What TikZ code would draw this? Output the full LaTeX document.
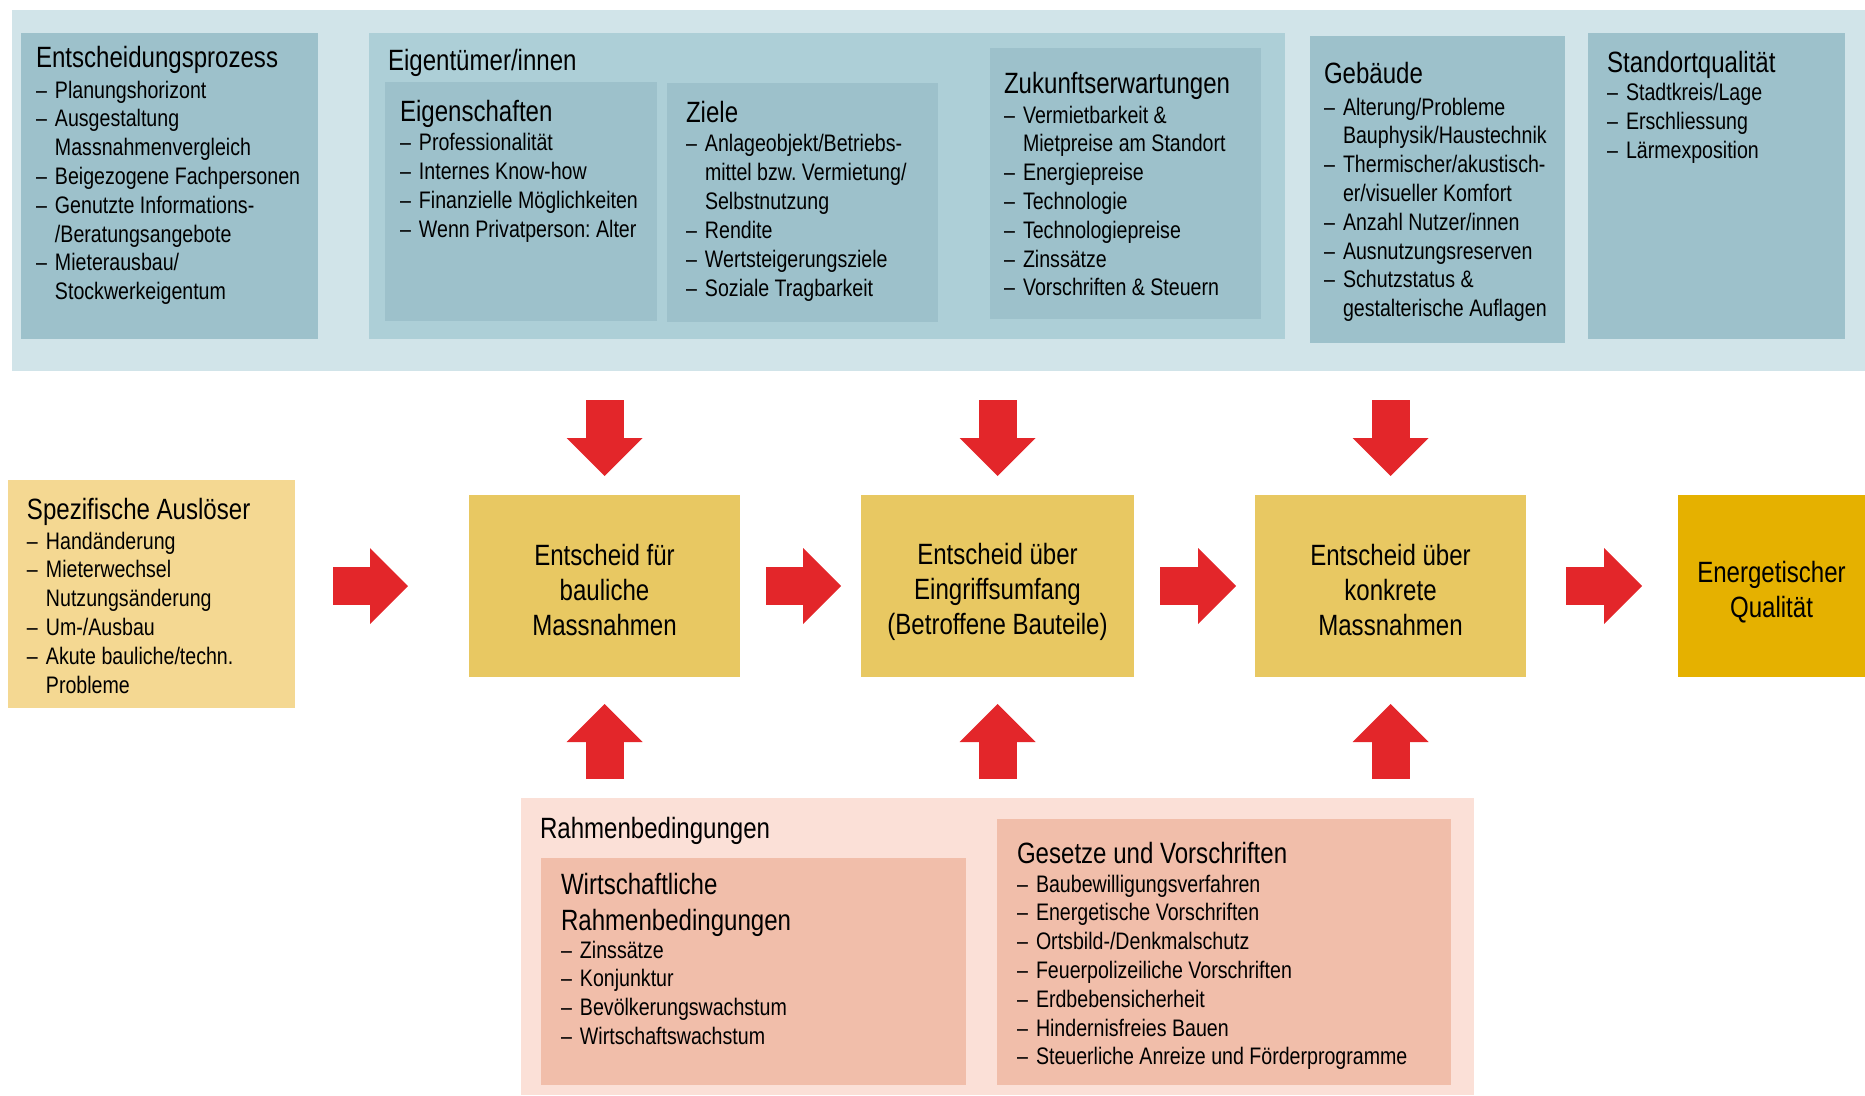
\documentclass[tikz,border=0pt]{standalone}
\usepackage{fontspec}
\setmainfont{Liberation Sans}[FakeStretch=0.82]
\usetikzlibrary{positioning,fit,calc,arrows.meta}
\frenchspacing

\definecolor{bandblue}{HTML}{D1E4E9}
\definecolor{ownerblue}{HTML}{ADCFD7}
\definecolor{innerblue}{HTML}{9DC1CB}
\definecolor{triggeryellow}{HTML}{F4D892}
\definecolor{decyellow}{HTML}{E8C862}
\definecolor{goalgold}{HTML}{E5B100}
\definecolor{arrowred}{HTML}{E3262A}
\definecolor{frameypink}{HTML}{FBE0D7}
\definecolor{innerpink}{HTML}{F1BEAA}

\newcommand{\hdsize}{\fontsize{16.7pt}{20.5pt}\selectfont}
\newcommand{\lssize}{\fontsize{13.6pt}{16.4pt}\selectfont}
\newcommand{\decsize}{\fontsize{16.7pt}{19.9pt}\selectfont}
\newcommand{\li}{\makebox[0.38cm][l]{–}}
\newcommand{\lc}{\hspace*{0.38cm}}
% top-aligned stack of lines, baseline = first line
\newcommand{\lines}[1]{\begin{tabular}[t]{@{}l@{}}#1\end{tabular}}

\begin{document}
\begin{tikzpicture}[x=0.02cm,y=-0.02cm,
    every node/.style={inner sep=0pt,outer sep=0pt},
    hd/.style={anchor=base west,font=\hdsize},
    lst/.style={anchor=base west,font=\lssize},
    dectext/.style={align=center,font=\decsize},
    bigarrow/.style={line width=0.76cm,arrowred,
      -{Triangle[width=1.52cm,length=0.76cm,line width=0pt]}}]
  \useasboundingbox (0,0) rectangle (1865,1095);

  % top: influencing factors
  \node[fill=bandblue,fit={(12,10) (1865,371)}]    (band) {};
  \node[fill=innerblue,fit={(21,33) (318,339)}]    (ep)   {};
  \node[fill=ownerblue,fit={(369,33) (1285,339)}]  (own)  {};
  \node[fill=innerblue,fit={(385,82) (657,321)}]   (eig)  {};
  \node[fill=innerblue,fit={(667,83) (938,322)}]   (zie)  {};
  \node[fill=innerblue,fit={(990,48) (1261,319)}]  (zuk)  {};
  \node[fill=innerblue,fit={(1310,36) (1565,343)}] (geb)  {};
  \node[fill=innerblue,fit={(1588,33) (1845,339)}] (sto)  {};

  \node[hd] (eph) at ($(ep.north west)+(15,35)$) {Entscheidungsprozess};
  \node[lst] at ($(eph.base west)+(0,30)$) {\lines{\li Planungshorizont\\ \li Ausgestaltung\\ \lc Massnahmenvergleich\\
    \li Beigezogene Fachpersonen\\ \li Genutzte Informations-\\ \lc /Beratungsangebote\\
    \li Mieterausbau/\\ \lc Stockwerkeigentum}};

  \node[hd] at ($(own.north west)+(19,38)$) {Eigentümer/innen};

  \node[hd] (eigh) at ($(eig.north west)+(15,39)$) {Eigenschaften};
  \node[lst] at ($(eigh.base west)+(0,30)$) {\lines{\li Professionalität\\ \li Internes Know-how\\
    \li Finanzielle Möglichkeiten\\ \li Wenn Privatperson: Alter}};

  \node[hd] (zieh) at ($(zie.north west)+(19,39)$) {Ziele};
  \node[lst] at ($(zieh.base west)+(0,30)$) {\lines{\li Anlageobjekt/Betriebs-\\ \lc mittel bzw. Vermietung/\\
    \lc Selbstnutzung\\ \li Rendite\\ \li Wertsteigerungsziele\\ \li Soziale Tragbarkeit}};

  \node[hd] (zukh) at ($(zuk.north west)+(14,45)$) {Zukunftserwartungen};
  \node[lst] at ($(zukh.base west)+(0,30)$) {\lines{\li Vermietbarkeit \&\\ \lc Mietpreise am Standort\\
    \li Energiepreise\\ \li Technologie\\ \li Technologiepreise\\ \li Zinssätze\\ \li Vorschriften \& Steuern}};

  \node[hd] (gebh) at ($(geb.north west)+(14,48)$) {Gebäude};
  \node[lst] at ($(gebh.base west)+(0,31)$) {\lines{\li Alterung/Probleme\\ \lc Bauphysik/Haustechnik\\
    \li Thermischer/akustisch-\\ \lc er/visueller Komfort\\ \li Anzahl Nutzer/innen\\
    \li Ausnutzungsreserven\\ \li Schutzstatus \&\\ \lc gestalterische Auflagen}};

  \node[hd] (stoh) at ($(sto.north west)+(19,39)$) {Standortqualität};
  \node[lst] at ($(stoh.base west)+(0,29)$) {\lines{\li Stadtkreis/Lage\\ \li Erschliessung\\ \li Lärmexposition}};

  % middle: decision chain
  \node[fill=triggeryellow,fit={(8,480) (295,708)}] (spz) {};
  \node[hd] (spzh) at ($(spz.north west)+(19,39)$) {Spezifische Auslöser};
  \node[lst] at ($(spzh.base west)+(0,30)$) {\lines{\li Handänderung\\ \li Mieterwechsel\\ \lc Nutzungsänderung\\
    \li Um-/Ausbau\\ \li Akute bauliche/techn.\\ \lc Probleme}};

  \node[fill=decyellow,fit={(469,495) (740,677)}]   (d1) {};
  \node[fill=decyellow,fit={(861,495) (1134,677)}]  (d2) {};
  \node[fill=decyellow,fit={(1255,495) (1526,677)}] (d3) {};
  \node[fill=goalgold,fit={(1678,495) (1865,677)}]  (en) {};
  \node[dectext] at ($(d1)+(0,4)$) {Entscheid für\\bauliche\\Massnahmen};
  \node[dectext] at ($(d2)+(0,6)$) {Entscheid über\\Eingriffsumfang\\(Betroffene Bauteile)};
  \node[dectext] at ($(d3)+(0,4)$) {Entscheid über\\konkrete\\Massnahmen};
  \node[dectext] at ($(en)+(0,6)$) {Energetischer\\Qualität};

  \draw[bigarrow] ($(d1.west)+(-136,0)$) -- ($(d1.west)+(-61,0)$);
  \draw[bigarrow] ($(d1.east)+(26,0)$) -- ($(d2.west)+(-20,0)$);
  \draw[bigarrow] ($(d2.east)+(26,0)$) -- ($(d3.west)+(-19,0)$);
  \draw[bigarrow] ($(d3.east)+(40,0)$) -- ($(en.west)+(-36,0)$);
  \foreach \n in {d1,d2,d3} {
    \draw[bigarrow] ($(\n.north)+(0,-95)$) -- ($(\n.north)+(0,-19)$);
    \draw[bigarrow] ($(\n.south)+(0,102)$) -- ($(\n.south)+(0,27)$);
  }

  % bottom: framework conditions
  \node[fill=frameypink,fit={(521,798) (1474,1095)}] (rb) {};
  \node[fill=innerpink,fit={(541,858) (966,1085)}]   (wr) {};
  \node[fill=innerpink,fit={(997,819) (1451,1085)}]  (gv) {};

  \node[hd] at ($(rb.north west)+(19,40)$) {Rahmenbedingungen};
  \node[hd] (wrh) at ($(wr.north west)+(20,36)$) {\lines{Wirtschaftliche\\Rahmenbedingungen}};
  \node[lst] at ($(wrh.base west)+(0,64)$) {\lines{\li Zinssätze\\ \li Konjunktur\\ \li Bevölkerungswachstum\\
    \li Wirtschaftswachstum}};
  \node[hd] (gvh) at ($(gv.north west)+(20,44)$) {Gesetze und Vorschriften};
  \node[lst] at ($(gvh.base west)+(0,29)$) {\lines{\li Baubewilligungsverfahren\\ \li Energetische Vorschriften\\
    \li Ortsbild-/Denkmalschutz\\ \li Feuerpolizeiliche Vorschriften\\ \li Erdbebensicherheit\\
    \li Hindernisfreies Bauen\\ \li Steuerliche Anreize und Förderprogramme}};
\end{tikzpicture}
\end{document}
